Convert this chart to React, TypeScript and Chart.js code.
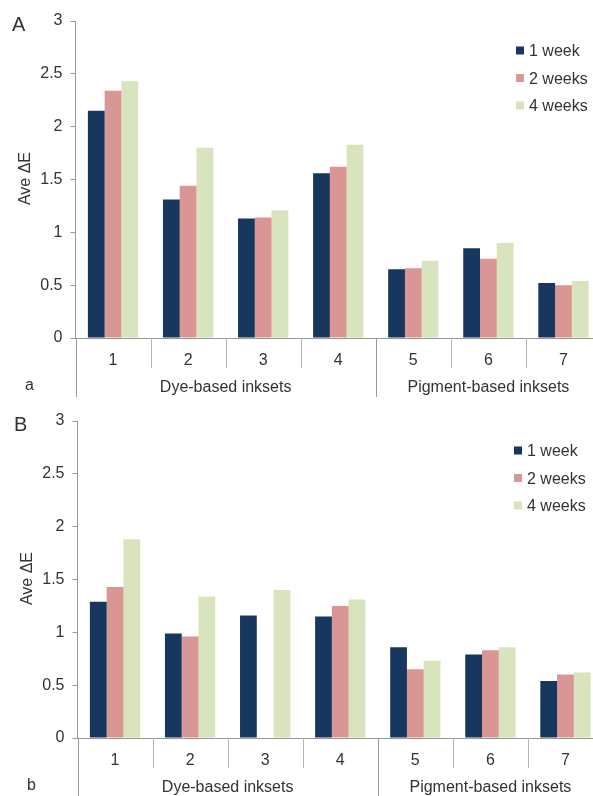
import { useEffect, useRef } from "react";
import { Chart, registerables } from "chart.js";

Chart.register(...registerables);

// Inkset categories along the x axis and the two inkset groups below them
const inksets = ["1", "2", "3", "4", "5", "6", "7"];
const groupNames = ["Dye-based inksets", "Pigment-based inksets"];
const groupSizes = [4, 3];

// Exposure times (legend entries) and their bar colours
const seriesNames = ["1 week", "2 weeks", "4 weeks"];
const seriesColors = ["#17375E", "#D99694", "#D7E4BD"];

// Y axis range
const yMin = 0;
const yMax = 3;
const yStep = 0.5;

// Panel A: average colour difference per inkset
const weekOneA = [2.15, 1.31, 1.13, 1.56, 0.65, 0.85, 0.52];
const weekTwoA = [2.34, 1.44, 1.14, 1.62, 0.66, 0.75, 0.5];
const weekFourA = [2.43, 1.8, 1.21, 1.83, 0.73, 0.9, 0.54];

// Panel B: average colour difference per inkset (no 2-week value for inkset 3)
const weekOneB = [1.29, 0.99, 1.16, 1.15, 0.86, 0.79, 0.54];
const weekTwoB = [1.43, 0.96, null, 1.25, 0.65, 0.83, 0.6];
const weekFourB = [1.88, 1.34, 1.4, 1.31, 0.73, 0.86, 0.62];

const FONT = '"Liberation Sans", Arial, sans-serif';
const TEXT = "#333333";
const AXIS = "#999999";
const DIVIDER = "#b3b3b3";

type PanelProps = {
  series: (number | null)[][];
  letter: string;
  subLetter: string;
  top: number;
  left: number;
  legendLeft: number;
};

function makeDecorations(letter: string, subLetter: string, legendLeft: number) {
  return {
    id: "panelDecorations",
    afterDraw(chart: any) {
      const { ctx, chartArea, scales } = chart;
      const xs = scales.x;
      const half = (xs.getPixelForValue(1) - xs.getPixelForValue(0)) / 2;
      const edge = (i: number) => xs.getPixelForValue(i) - half;
      const bottom = chartArea.bottom;

      ctx.save();
      ctx.lineWidth = 1;

      // category dividers below the axis; group boundaries run longer
      const groupEdges = [0];
      groupSizes.forEach((n) => groupEdges.push(groupEdges[groupEdges.length - 1] + n));
      for (let i = 0; i <= inksets.length; i++) {
        const isGroup = groupEdges.includes(i);
        const x = Math.round(edge(i)) + 0.5;
        ctx.strokeStyle = isGroup ? AXIS : DIVIDER;
        ctx.beginPath();
        ctx.moveTo(x, bottom);
        ctx.lineTo(x, bottom + (isGroup ? 59 : 30));
        ctx.stroke();
      }

      // group labels
      ctx.fillStyle = TEXT;
      ctx.font = `16px ${FONT}`;
      ctx.textAlign = "center";
      ctx.textBaseline = "alphabetic";
      groupNames.forEach((name, g) => {
        const cx = (edge(groupEdges[g]) + edge(groupEdges[g + 1])) / 2;
        ctx.fillText(name, cx, bottom + 54);
      });

      // sub-panel letter
      ctx.textAlign = "left";
      ctx.fillText(subLetter, 25, bottom + 52);

      // panel letter
      ctx.font = `20px ${FONT}`;
      ctx.fillText(letter, 12, 31);

      // y axis title
      ctx.font = `16px ${FONT}`;
      ctx.save();
      ctx.translate(26, (chartArea.top + chartArea.bottom) / 2 - 1);
      ctx.rotate(-Math.PI / 2);
      ctx.textAlign = "center";
      ctx.textBaseline = "middle";
      ctx.fillText("Ave \u0394E", 0, 0);
      ctx.restore();

      // legend
      chart.data.datasets.forEach((ds: any, k: number) => {
        const rowTop = 46.5 + k * 27.5;
        ctx.fillStyle = ds.backgroundColor;
        ctx.fillRect(legendLeft, rowTop, 8, 8);
        ctx.fillStyle = TEXT;
        ctx.textAlign = "left";
        ctx.textBaseline = "alphabetic";
        ctx.fillText(ds.label, legendLeft + 13, rowTop + 9.5);
      });

      ctx.restore();
    },
  };
}

function Panel({ series, letter, subLetter, top, left, legendLeft }: PanelProps) {
  const canvasRef = useRef<HTMLCanvasElement | null>(null);

  useEffect(() => {
    if (!canvasRef.current) return;
    const chart = new Chart(canvasRef.current, {
      type: "bar",
      data: {
        labels: inksets,
        datasets: series.map((values, k) => ({
          label: seriesNames[k],
          data: values,
          backgroundColor: seriesColors[k],
          borderWidth: 0,
          barPercentage: 1,
          categoryPercentage: 0.67,
        })),
      },
      options: {
        responsive: false,
        animation: false,
        devicePixelRatio: 1,
        layout: { padding: { top: 21, left: 0, right: 0, bottom: 0 } },
        plugins: {
          legend: { display: false },
          tooltip: { enabled: false },
        },
        scales: {
          x: {
            grid: { display: false },
            border: { display: true, color: AXIS, width: 1 },
            ticks: { color: TEXT, font: { family: FONT, size: 16 }, padding: 5 },
            afterFit: (s: any) => {
              s.height = 62;
            },
          },
          y: {
            min: yMin,
            max: yMax,
            ticks: {
              stepSize: yStep,
              color: TEXT,
              font: { family: FONT, size: 16 },
              padding: 8,
              callback: (v: any) => `${Number(v)}`,
            },
            grid: { drawOnChartArea: false, drawTicks: true, tickLength: 5, color: AXIS },
            border: { display: true, color: AXIS, width: 1 },
            afterFit: (s: any) => {
              s.width = 75.5;
            },
          },
        },
      },
      plugins: [makeDecorations(letter, subLetter, legendLeft)],
    });
    return () => chart.destroy();
  }, [series, letter, subLetter, legendLeft]);

  return (
    <div style={{ position: "absolute", top, left }}>
      <canvas ref={canvasRef} width={601} height={400} style={{ display: "block" }} />
    </div>
  );
}

const seriesA = [weekOneA, weekTwoA, weekFourA];
const seriesB = [weekOneB, weekTwoB, weekFourB];

export default function App() {
  return (
    <div
      style={{
        position: "fixed",
        left: 0,
        top: 0,
        width: 593,
        height: 796,
        overflow: "hidden",
        background: "#ffffff",
      }}
    >
      <Panel series={seriesA} letter="A" subLetter="a" top={0} left={0} legendLeft={516} />
      <Panel series={seriesB} letter="B" subLetter="b" top={400} left={2} legendLeft={512} />
    </div>
  );
}
